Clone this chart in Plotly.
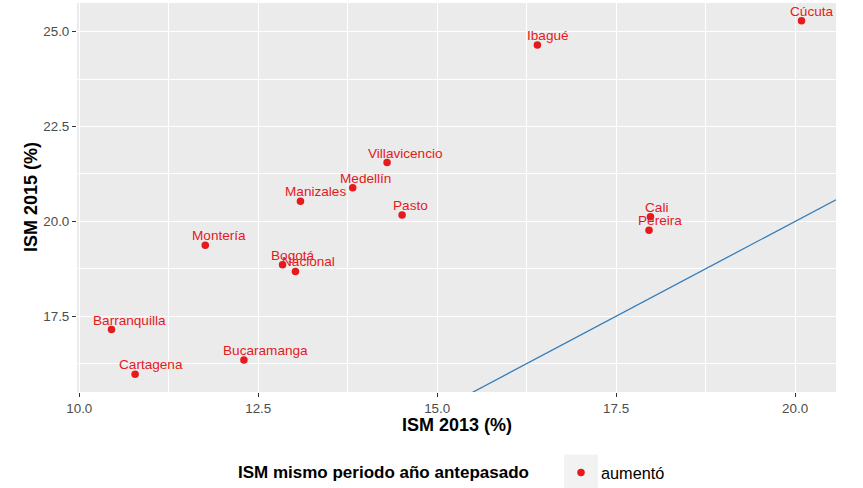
import plotly.graph_objects as go

# ---- data ----
ciudades = ["Cúcuta", "Ibagué", "Cali", "Pereira", "Villavicencio", "Medellín",
            "Manizales", "Pasto", "Montería", "Bogotá", "Nacional",
            "Barranquilla", "Cartagena", "Bucaramanga"]
ism_2013 = [20.09, 16.40, 17.98, 17.96, 14.30, 13.82, 13.09, 14.51, 11.76,
            12.84, 13.02, 10.45, 10.78, 12.30]
ism_2015 = [25.29, 24.65, 20.12, 19.77, 21.55, 20.89, 20.53, 20.17, 19.37,
            18.86, 18.68, 17.15, 15.97, 16.35]
grupo = "aumentó"
x_ticks = [10.0, 12.5, 15.0, 17.5, 20.0]
y_ticks = [17.5, 20.0, 22.5, 25.0]

# ---- style ----
RED = "#E41A1C"
BLUE = "#377EB8"
FONT = "Liberation Sans, Arial, Helvetica, sans-serif"
W, H = 863, 488
ML, MR, MT, MB = 77, 27, 3, 95.5
LABEL_SIZE = 13.6

# Arial advance widths (per 1000 em) for label-width estimation (hjust = 0.25)
AW = {"A": 667, "B": 667, "C": 722, "D": 722, "I": 278, "M": 833, "N": 722,
      "P": 667, "V": 667, "a": 556, "b": 556, "c": 500, "d": 556, "e": 556,
      "g": 556, "i": 222, "l": 222, "m": 833, "n": 556, "o": 556, "q": 556,
      "r": 333, "s": 500, "t": 278, "u": 556, "v": 500, "z": 500, "ú": 556,
      "é": 556, "í": 278, "á": 556, "ó": 556}


def text_width(s, size):
    return sum(AW.get(ch, 556) for ch in s) / 1000 * size


def expand(vals, f=0.05):
    lo, hi = min(vals), max(vals)
    d = (hi - lo) * f
    return [lo - d, hi + d]


xr = expand(ism_2013)
yr = expand(ism_2015)

pw = W - ML - MR
ph = H - MT - MB


def px_x(p):
    return (p - ML) / pw


def px_y(p):
    return (H - MB - p) / ph


fig = go.Figure()

# identity line y = x
fig.add_trace(go.Scatter(x=xr, y=xr, mode="lines",
                         line=dict(color=BLUE, width=1.3),
                         showlegend=False, hoverinfo="skip"))

fig.add_trace(go.Scatter(x=ism_2013, y=ism_2015, mode="markers",
                         marker=dict(color=RED, size=7.5),
                         name=grupo, text=ciudades, showlegend=True))

annotations = []
for c, xv, yv in zip(ciudades, ism_2013, ism_2015):
    annotations.append(dict(
        x=xv, y=yv, xref="x", yref="y", text=c, showarrow=False,
        xanchor="center", yanchor="middle",
        xshift=0.25 * text_width(c, LABEL_SIZE), yshift=9.5,
        font=dict(family=FONT, size=LABEL_SIZE, color=RED)))

# axis titles
annotations.append(dict(x=0.5, y=px_y(426), xref="paper", yref="paper",
                        text="<b>ISM 2013 (%)</b>", showarrow=False,
                        xanchor="center", yanchor="middle",
                        font=dict(family=FONT, size=18, color="black")))
annotations.append(dict(x=px_x(30.5), y=0.5, xref="paper", yref="paper",
                        text="<b>ISM 2015 (%)</b>", showarrow=False,
                        textangle=-90, xanchor="center", yanchor="middle",
                        font=dict(family=FONT, size=18, color="black")))
# legend title
annotations.append(dict(x=px_x(236), y=px_y(473), xref="paper", yref="paper",
                        text="<b>ISM mismo periodo año antepasado</b>",
                        showarrow=False, xanchor="left", yanchor="middle",
                        font=dict(family=FONT, size=17, color="black")))

shapes = [dict(type="rect", xref="paper", yref="paper",
               x0=px_x(564), x1=px_x(598), y0=px_y(455), y1=px_y(490),
               fillcolor="#F2F2F2", line=dict(width=0), layer="below")]

axis_common = dict(
    showgrid=True, gridcolor="white", gridwidth=1.4,
    zeroline=False, showline=False, automargin=False,
    ticks="outside", ticklen=4, tickwidth=1.1, tickcolor="#333333",
    tickfont=dict(family=FONT, size=13.4, color="#4D4D4D"),
    tickformat=".1f",
    minor=dict(dtick=1.25, tick0=0, showgrid=True, gridcolor="white",
               gridwidth=0.7, ticks=""),
)

fig.update_layout(
    width=W, height=H,
    margin=dict(l=ML, r=MR, t=MT, b=MB, pad=0),
    paper_bgcolor="white", plot_bgcolor="#EBEBEB",
    font=dict(family=FONT),
    xaxis=dict(range=xr, tickvals=x_ticks, **axis_common),
    yaxis=dict(range=yr, tickvals=y_ticks, **axis_common),
    showlegend=True,
    legend=dict(orientation="h", x=px_x(561), y=1 - 473 / H,
                yref="container",
                xanchor="left", yanchor="middle",
                bgcolor="rgba(0,0,0,0)", itemwidth=30,
                font=dict(family=FONT, size=16.3, color="black")),
    annotations=annotations,
    shapes=shapes,
)

fig.write_html("out.html", config={"displayModeBar": False})

# remove the default page margin so the figure sits at the window's corner
with open("out.html", "r", encoding="utf-8") as f:
    html = f.read()
html = html.replace("<body>", '<body style="margin:0;padding:0;overflow:hidden">', 1)
with open("out.html", "w", encoding="utf-8") as f:
    f.write(html)
